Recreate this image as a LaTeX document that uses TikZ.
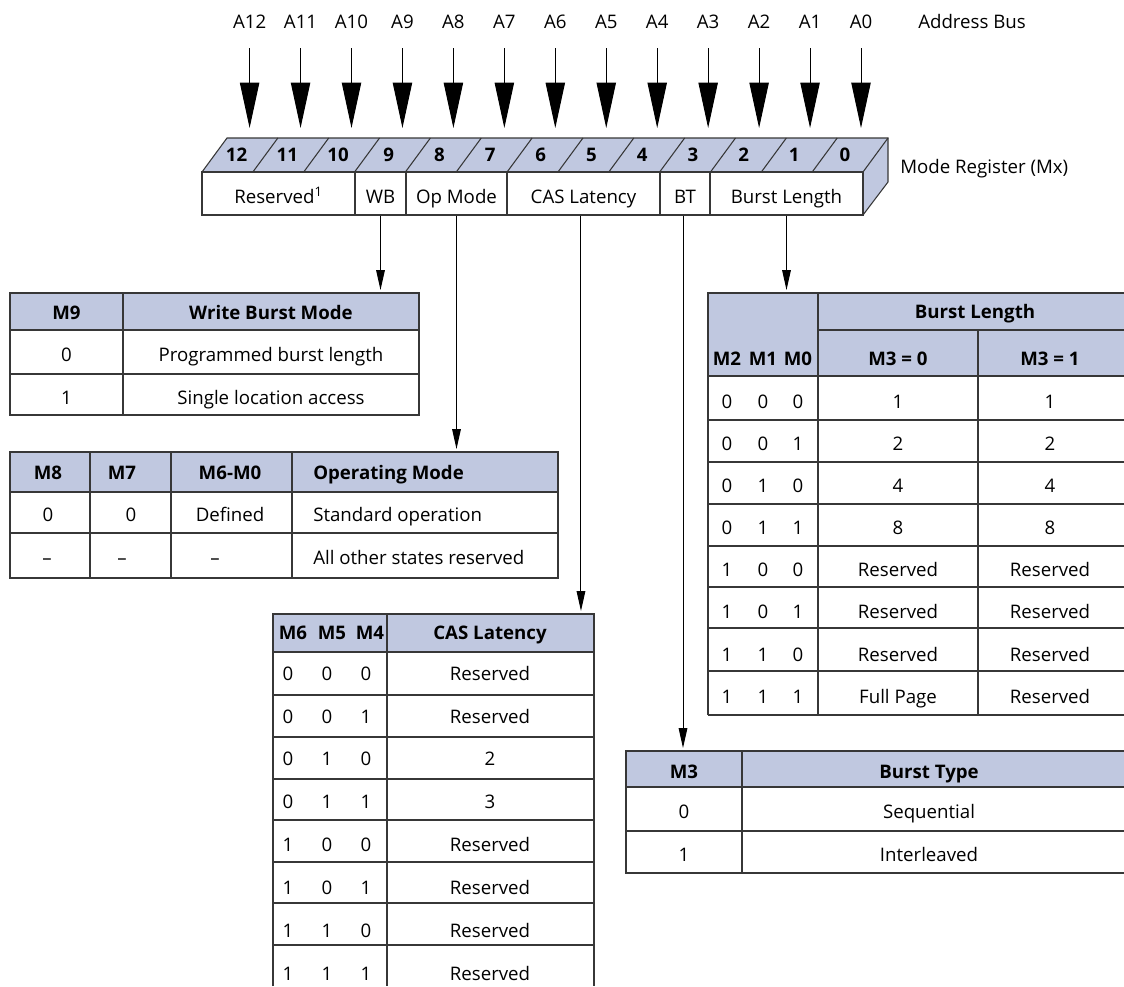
\documentclass[tikz,border=0pt]{standalone}
\usepackage{fontspec}
\setmainfont{Open Sans}
\usetikzlibrary{arrows.meta,positioning,calc}

\definecolor{regblue}{RGB}{192,200,224}
\definecolor{rulegray}{RGB}{55,55,55}

\begin{document}
\begin{tikzpicture}[x=0.75pt, y=-0.75pt, font=\fontsize{14}{16}\selectfont]
    \tikzset{tab/.style={draw=rulegray, line width=0.8pt}}
    \tikzset{field/.style={draw=rulegray, line width=0.8pt, fill=white, inner sep=0pt,
        minimum height=32.25pt, text height=15pt, text depth=0pt}}
    \tikzset{txt/.style={inner sep=0pt, text height=10pt, text depth=0pt}}
    \tikzset{hd/.style={txt, font=\fontsize{14}{16}\selectfont\bfseries}}
    \tikzset{bus/.style={draw, line width=0.75pt, -{Triangle[length=34pt, width=14.5pt]}, shorten <=14.5pt, shorten >=7.5pt}}
    \tikzset{feed/.style={draw, line width=0.75pt, -{Triangle[length=15pt, width=6.5pt]}, shorten >=2.25pt}}

    \useasboundingbox (0,0) rectangle (1124,986);

    % address bus
    \foreach \i in {0,...,12} {
        \node [txt] (a\i) at ({861-50.95*\i},22) {A\i};
    }
    \node [txt, anchor=west] (bus) at (918,22) {Address Bus};

    % mode register
    \coordinate (topface) at (227,138);
    \fill [regblue] (202,172) -- (227,138) -- (888,138) -- (888,182) -- (863,215) -- (863,172) -- cycle;
    \draw [tab] (202,215) -- (202,172) -- (227,138) -- (888,138) -- (888,182) -- (863,215);
    \draw [tab] (202,172) -- (863,172) -- (888,138);
    \foreach \k in {1,...,12} {
        \draw [tab] ({202+50.85*\k},172) -- ++(25,-34);
    }
    \foreach \i in {0,...,12} {
        \node [hd] (b\i) at ({845-50.7*\i},155) {\i};
    }
    \node [field, minimum width=114.75pt] (fres) at (278.5,193.5) {Reserved\textsuperscript{1}};
    \node [field, minimum width=38.25pt] (fwb) at (380.5,193.5) {WB};
    \node [field, minimum width=75.75pt] (fop) at (456.5,193.5) {Op Mode};
    \node [field, minimum width=114.75pt] (fcas) at (583.5,193.5) {CAS Latency};
    \node [field, minimum width=37.5pt] (fbt) at (685,193.5) {BT};
    \node [field, minimum width=114.75pt] (fbl) at (786.5,193.5) {Burst Length};
    \node [txt, anchor=west] (mreg) at (900,167) {Mode Register (Mx)};

    \foreach \i in {0,...,12} {
        \draw [bus] (a\i.south) -- (a\i.south |- topface);
    }

    % table corners
    \coordinate (wbtop) at (10,293);
    \coordinate (optop) at (10,452);
    \coordinate (castop) at (273,614);
    \coordinate (bltop) at (708,293);
    \coordinate (bttop) at (626,751);

    \draw [feed] (fwb.south) -- (fwb.south |- wbtop);
    \draw [feed] (fop.south) -- (fop.south |- optop);
    \draw [feed] ([xshift=-1.9pt]fcas.south) -- ([xshift=-1.9pt]fcas.south |- castop);
    \draw [feed] ([xshift=-1.5pt]fbt.south) -- ([xshift=-1.5pt]fbt.south |- bttop);
    \draw [feed] (fbl.south) -- (fbl.south |- bltop);

    % write burst mode
    \fill [regblue] (10,293) rectangle (419,330);
    \draw [tab] (10,293) rectangle (419,415);
    \draw [tab] (10,330) -- (419,330) (10,374) -- (419,374) (123,293) -- (123,415);
    \node [hd] (wbm) at (66.5,313) {M9};
    \node [hd] (wbh) at (271,313) {Write Burst Mode};
    \foreach \v/\t/\yy [count=\n] in {0/Programmed burst length/355, 1/Single location access/398} {
        \node [txt] (wbv\n) at (66.5,\yy) {\v};
        \node [txt] (wbt\n) at (271,\yy) {\t};
    }

    % operating mode
    \fill [regblue] (10,452) rectangle (558,492);
    \draw [tab] (10,452) rectangle (558,578);
    \draw [tab] (10,492) -- (558,492) (10,533) -- (558,533);
    \draw [tab] (90,452) -- (90,578) (171,452) -- (171,578) (292,452) -- (292,578);
    \node [hd] (opm8) at (48,473) {M8};
    \node [hd] (opm7) at (122,473) {M7};
    \node [hd] (opm6) at (230,473) {M6-M0};
    \node [hd, anchor=west] (oph) at (313,473) {Operating Mode};
    \node [txt] (op1a) at (48,515) {0};
    \node [txt] (op1b) at (131,515) {0};
    \node [txt] (op1c) at (230,515) {Defined};
    \node [txt, anchor=west] (op1d) at (313,515) {Standard operation};
    \node [txt] (op2a) at (47,558) {--};
    \node [txt] (op2b) at (122,558) {--};
    \node [txt] (op2c) at (215,558) {--};
    \node [txt, anchor=west] (op2d) at (313,558) {All other states reserved};

    % CAS latency
    \fill [regblue] (273,614) rectangle (594,652);
    \draw [tab] (273,986) -- (273,614) -- (594,614) -- (594,986);
    \draw [tab] (387,614) -- (387,986);
    \foreach \yy in {652,695,737,779,820,862,903,945} {
        \draw [tab] (273,\yy) -- (594,\yy);
    }
    \node [hd] (casm6) at (293,633) {M6};
    \node [hd] (casm5) at (332,633) {M5};
    \node [hd] (casm4) at (370,633) {M4};
    \node [hd] (cash) at (490,633) {CAS Latency};
    \foreach \ma/\mb/\mc/\val [count=\n] in {0/0/0/Reserved, 0/0/1/Reserved, 0/1/0/2, 0/1/1/3,
            1/0/0/Reserved, 1/0/1/Reserved, 1/1/0/Reserved, 1/1/1/Reserved} {
        \pgfmathsetmacro\yy{673.5+42.85*(\n-1)}
        \node [txt] (casa\n) at (288,\yy) {\ma};
        \node [txt] (casb\n) at (327,\yy) {\mb};
        \node [txt] (casc\n) at (366,\yy) {\mc};
        \node [txt] (casv\n) at (490,\yy) {\val};
    }

    % burst length
    \fill [regblue] (708,293) rectangle (1124,376);
    \draw [tab] (708,715) -- (708,293) -- (1124,293);
    \draw [tab] (818,330) -- (1124,330) (708,376) -- (1124,376);
    \draw [tab] (818,293) -- (818,715) (978,330) -- (978,715);
    \foreach \yy in {420,462,504,546,587,628,671,715} {
        \draw [tab] (708,\yy) -- (1124,\yy);
    }
    \node [hd] (blh) at (975,312) {Burst Length};
    \node [hd] (blm2) at (727,359) {M2};
    \node [hd] (blm1) at (763,359) {M1};
    \node [hd] (blm0) at (798,359) {M0};
    \node [hd] (bl30) at (898,359) {M3 = 0};
    \node [hd] (bl31) at (1050,359) {M3 = 1};
    \foreach \ma/\mb/\mc/\va/\vb [count=\n] in {0/0/0/1/1, 0/0/1/2/2, 0/1/0/4/4, 0/1/1/8/8,
            1/0/0/Reserved/Reserved, 1/0/1/Reserved/Reserved, 1/1/0/Reserved/Reserved,
            1/1/1/Full Page/Reserved} {
        \pgfmathsetmacro\yy{401.5+42.15*(\n-1)}
        \node [txt] (bla\n) at (727,\yy) {\ma};
        \node [txt] (blb\n) at (763,\yy) {\mb};
        \node [txt] (blc\n) at (798,\yy) {\mc};
        \node [txt] (blv\n) at (898,\yy) {\va};
        \node [txt] (blw\n) at (1050,\yy) {\vb};
    }

    % burst type
    \fill [regblue] (626,751) rectangle (1124,787);
    \draw [tab] (1124,751) -- (626,751) -- (626,873) -- (1124,873);
    \draw [tab] (626,787) -- (1124,787) (626,831) -- (1124,831) (742,751) -- (742,873);
    \node [hd] (btm) at (684,772) {M3};
    \node [hd] (bth) at (929,772) {Burst Type};
    \node [txt] (bt0) at (684,812) {0};
    \node [txt] (bts) at (929,812) {Sequential};
    \node [txt] (bt1) at (684,855) {1};
    \node [txt] (bti) at (929,855) {Interleaved};

\end{tikzpicture}
\end{document}
